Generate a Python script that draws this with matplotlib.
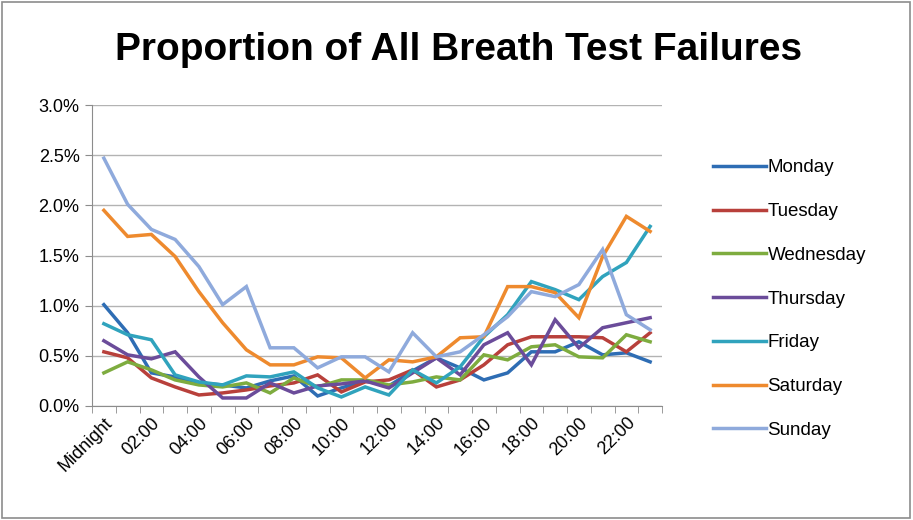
import matplotlib
matplotlib.use("Agg")
import matplotlib.pyplot as plt
import numpy as np
from matplotlib.ticker import FuncFormatter, FixedLocator
from matplotlib.patches import Rectangle

hours = list(range(24))
tick_labels = ["Midnight", "02:00", "04:00", "06:00", "08:00", "10:00",
               "12:00", "14:00", "16:00", "18:00", "20:00", "22:00"]

monday = [1.01, 0.73, 0.33, 0.29, 0.23, 0.21, 0.18, 0.25, 0.30, 0.10, 0.18, 0.25,
          0.20, 0.35, 0.48, 0.38, 0.26, 0.33, 0.54, 0.54, 0.64, 0.51, 0.53, 0.44]
tuesday = [0.54, 0.48, 0.28, 0.19, 0.11, 0.13, 0.16, 0.20, 0.23, 0.31, 0.14, 0.24,
           0.26, 0.36, 0.19, 0.26, 0.41, 0.61, 0.69, 0.69, 0.69, 0.68, 0.54, 0.73]
wednesday = [0.33, 0.44, 0.36, 0.26, 0.21, 0.19, 0.23, 0.13, 0.28, 0.19, 0.26, 0.26,
             0.21, 0.24, 0.29, 0.26, 0.51, 0.46, 0.59, 0.61, 0.49, 0.48, 0.71, 0.64]
thursday = [0.65, 0.51, 0.47, 0.54, 0.29, 0.08, 0.08, 0.23, 0.13, 0.20, 0.22, 0.25,
            0.18, 0.33, 0.48, 0.31, 0.61, 0.73, 0.41, 0.86, 0.58, 0.78, 0.83, 0.88]
friday = [0.82, 0.71, 0.66, 0.31, 0.24, 0.21, 0.30, 0.29, 0.34, 0.18, 0.09, 0.19,
          0.11, 0.36, 0.23, 0.39, 0.69, 0.91, 1.24, 1.16, 1.06, 1.29, 1.43, 1.79]
saturday = [1.95, 1.69, 1.71, 1.49, 1.14, 0.83, 0.56, 0.41, 0.41, 0.49, 0.48, 0.28,
            0.46, 0.44, 0.49, 0.68, 0.69, 1.19, 1.19, 1.13, 0.88, 1.49, 1.89, 1.74]
sunday = [2.47, 2.01, 1.76, 1.66, 1.39, 1.01, 1.19, 0.58, 0.58, 0.38, 0.49, 0.49,
          0.34, 0.73, 0.49, 0.54, 0.71, 0.89, 1.14, 1.09, 1.21, 1.56, 0.91, 0.76]

series = [("Monday", monday, "#2E6DB4"),
          ("Tuesday", tuesday, "#B8403B"),
          ("Wednesday", wednesday, "#7EAC3F"),
          ("Thursday", thursday, "#6B4C9A"),
          ("Friday", friday, "#30A3BD"),
          ("Saturday", saturday, "#EE8A2E"),
          ("Sunday", sunday, "#8FAADC")]

plt.rcParams['font.family'] = ['Liberation Sans Narrow', 'Liberation Sans', 'DejaVu Sans']

fig = plt.figure(figsize=(9.13, 5.2), dpi=100)
fig.patches.append(Rectangle((0.002, 0.003), 0.995, 0.993, transform=fig.transFigure,
                             fill=False, edgecolor="#8c8c8c", linewidth=1.2))
ax = fig.add_axes([92/913, 1-406/520, (662-92)/913, (406-105)/520])

for name, vals, col in series:
    ax.plot(hours, vals, color=col, linewidth=2.5, label=name, solid_joinstyle='miter')

ax.set_xlim(-0.5, 23.5)
ax.set_ylim(0, 3.0)
ax.set_yticks(np.arange(0, 3.01, 0.5))
ax.yaxis.set_major_formatter(FuncFormatter(lambda v, p: f"{v:.1f}%"))
ax.grid(axis='y', color="#b3b3b3", linewidth=1.0)
ax.set_axisbelow(True)

ax.set_xticks(np.arange(0, 24, 2))
ax.set_xticklabels(tick_labels, rotation=45, ha='right', rotation_mode='anchor', fontsize=13)
ax.tick_params(axis='x', length=0, pad=6)
ax.xaxis.set_minor_locator(FixedLocator(np.arange(-0.5, 24, 1)))
ax.tick_params(axis='x', which='minor', length=5, color="#8c8c8c")
ax.tick_params(axis='y', length=5, color="#8c8c8c", labelsize=13, pad=4)

for s in ['top', 'right']:
    ax.spines[s].set_visible(False)
for s in ['left', 'bottom']:
    ax.spines[s].set_color("#8c8c8c")

fig.text(0.502, 0.903, "Proportion of All Breath Test Failures", ha='center', va='center',
         fontsize=28, fontweight='bold')

leg = ax.legend(loc='center left', bbox_to_anchor=(1.06, 0.355), frameon=False,
                fontsize=13.5, handlelength=2.8, handletextpad=0.1, labelspacing=1.42)

fig.savefig("out.png", dpi=100)
